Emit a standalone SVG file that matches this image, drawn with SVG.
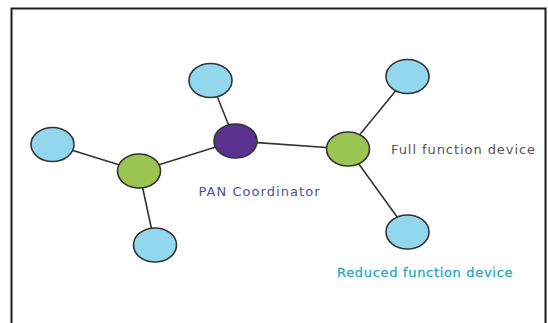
<svg xmlns="http://www.w3.org/2000/svg" width="548" height="323" viewBox="0 0 548 323">
  <style>
    .frame { fill: none; stroke: #1e1e1e; stroke-width: 2; }
    .link { stroke: #333333; stroke-width: 1.6; fill: none; }
    .node { stroke: #333333; stroke-width: 1.6; }
    .rfd { fill: #93d7ee; }
    .ffd { fill: #9bc552; }
    .pan { fill: #5b3290; }
    .label { font-family: "DejaVu Sans", "Liberation Sans", sans-serif; font-size: 13px; }
  </style>
  <rect width="548" height="323" fill="#ffffff"/>
  <!-- open frame: left, top and right sides -->
  <path class="frame" d="M11.5 323 V8.5 H545.5 V323"/>

  <g id="connectors">
    <line class="link" x1="52" y1="144" x2="139" y2="171"/>
    <line class="link" x1="139" y1="171" x2="235" y2="141"/>
    <line class="link" x1="139" y1="171" x2="155" y2="245"/>
    <line class="link" x1="235" y1="141" x2="211" y2="81"/>
    <line class="link" x1="235" y1="141" x2="348" y2="149"/>
    <line class="link" x1="348" y1="149" x2="407" y2="77"/>
    <line class="link" x1="348" y1="149" x2="408" y2="232"/>
  </g>

  <g id="rfd-left"><ellipse class="node rfd" cx="52.5" cy="144.5" rx="21.5" ry="17"/></g>
  <g id="rfd-top"><ellipse class="node rfd" cx="210.5" cy="80.5" rx="21.5" ry="17"/></g>
  <g id="rfd-bottom"><ellipse class="node rfd" cx="155" cy="245" rx="21.5" ry="17"/></g>
  <g id="rfd-top-right"><ellipse class="node rfd" cx="407.5" cy="76.5" rx="21.5" ry="17"/></g>
  <g id="rfd-bottom-right"><ellipse class="node rfd" cx="407.5" cy="232" rx="21.5" ry="17"/></g>
  <g id="ffd-left"><ellipse class="node ffd" cx="139" cy="171" rx="21.5" ry="17"/></g>
  <g id="ffd-right"><ellipse class="node ffd" cx="348" cy="149" rx="21.5" ry="17"/></g>
  <g id="pan-coordinator"><ellipse class="node pan" cx="235.5" cy="141" rx="21.5" ry="17"/></g>

  <g id="labels">
    <text class="label" x="391" y="153.5" fill="#555555" textLength="144" lengthAdjust="spacing">Full function device</text>
    <text class="label" x="198.5" y="195.5" fill="#4b4fa3" textLength="121" lengthAdjust="spacing">PAN Coordinator</text>
    <text class="label" x="337" y="277" fill="#2aa9c2" stroke="#2aa9c2" stroke-width="0.3" textLength="175.5" lengthAdjust="spacing">Reduced function device</text>
  </g>
</svg>
